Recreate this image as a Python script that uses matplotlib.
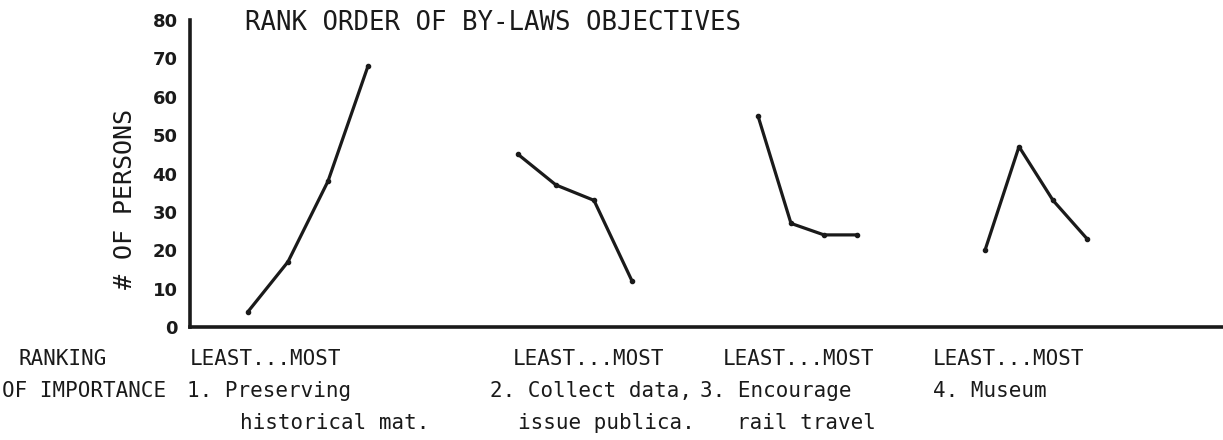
import numpy as np
import matplotlib.pyplot as plt

# persons choosing each rank (least ... most important) per objective
objectives = ["1. Preserving\nhistorical mat.", "2. Collect data,\nissue publica.",
              "3. Encourage\nrail travel", "4. Museum"]
preserving = [4, 17, 38, 68]
collect_data = [45, 37, 33, 12]
rail_travel = [55, 27, 24, 24]
museum = [20, 47, 33, 23]
yticks = [0, 10, 20, 30, 40, 50, 60, 70, 80]

W, H = 1223, 440
group_x = [248, 518, 758, 985]     # left point of each group, in px
group_step = [40, 38, 33, 34]      # spacing between ranks, in px

fig = plt.figure(figsize=(W / 100, H / 100), dpi=100)
ax = fig.add_axes([190 / W, 1 - 327 / H, 1 - 190 / W, 307 / H])

mono = "DejaVu Sans Mono"
ink = "#1a1a1a"

for vals, x0, dx in zip([preserving, collect_data, rail_travel, museum], group_x, group_step):
    xs = x0 + dx * np.arange(len(vals))
    ax.plot(xs, vals, color=ink, lw=2.3, marker="o", ms=3, solid_capstyle="round")

ax.set_xlim(190, W)
ax.set_ylim(0, 80)
ax.set_yticks(yticks)
ax.set_yticklabels([str(t) for t in yticks], fontsize=13, fontweight="bold", color=ink)
ax.set_xticks([])
ax.tick_params(axis="y", length=0, pad=9)
for s in ["top", "right"]:
    ax.spines[s].set_visible(False)
for s in ["left", "bottom"]:
    ax.spines[s].set_linewidth(2.6)
    ax.spines[s].set_color(ink)

def px_text(x, y, s, **kw):
    fig.text(x / W, 1 - y / H, s, family=mono, color=ink, **kw)

px_text(245, 23, "RANK ORDER OF BY-LAWS OBJECTIVES", fontsize=18.5, va="center")
px_text(125, 199, "# OF PERSONS", fontsize=18, rotation=90, ha="center", va="center")

fs = 15
row1, row2, row3 = 359, 391, 423
px_text(18, row1, "RANKING", fontsize=fs, va="center")
px_text(2, row2, "OF IMPORTANCE", fontsize=fs, va="center")
for xl in [190, 513, 723, 933]:
    px_text(xl, row1, "LEAST...MOST", fontsize=fs, va="center")
first_lines = [o.split("\n")[0] for o in objectives]
second_lines = [o.split("\n")[1] if "\n" in o else "" for o in objectives]
for s, xo in zip(first_lines, [187, 490, 700, 933]):
    px_text(xo, row2, s, fontsize=fs, va="center")
for s, xo in zip(second_lines, [240, 518, 737, 0]):
    if s:
        px_text(xo, row3, s, fontsize=fs, va="center")

fig.savefig("out.png", dpi=100)
